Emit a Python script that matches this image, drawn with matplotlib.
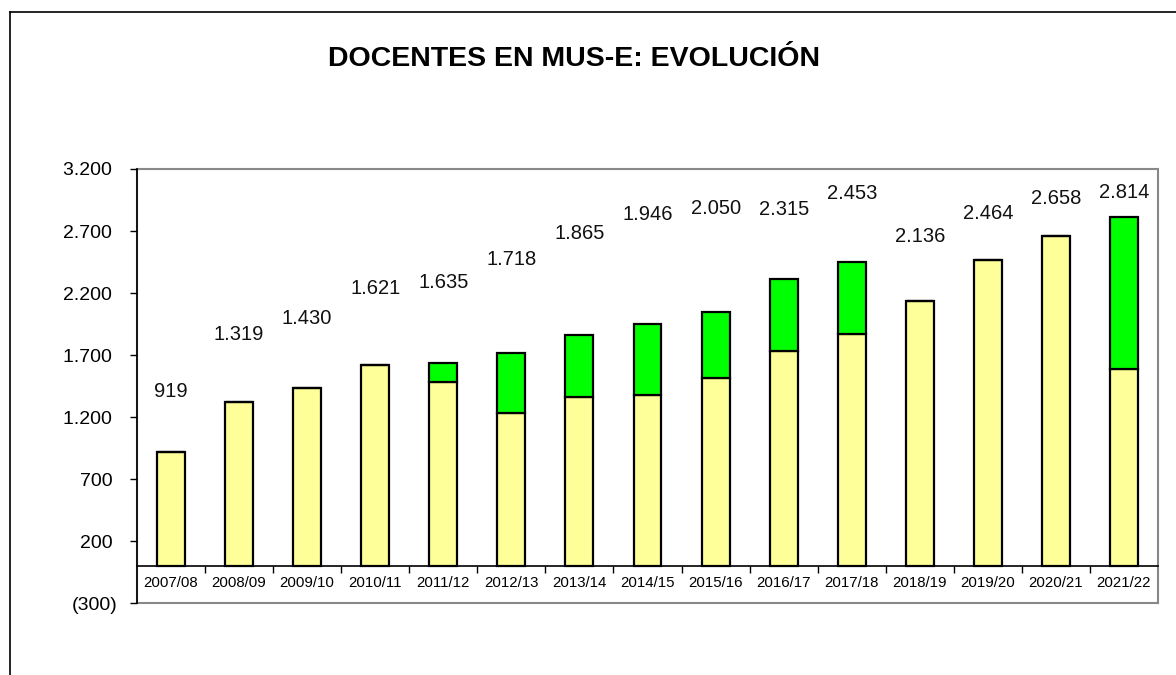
import matplotlib
matplotlib.use("Agg")
import matplotlib.pyplot as plt
from matplotlib.lines import Line2D
from matplotlib.patches import Rectangle
from matplotlib.ticker import FixedLocator, FuncFormatter

plt.rcParams['font.family'] = ['Liberation Sans', 'DejaVu Sans']

categories = ["2007/08", "2008/09", "2009/10", "2010/11", "2011/12", "2012/13", "2013/14",
              "2014/15", "2015/16", "2016/17", "2017/18", "2018/19", "2019/20", "2020/21", "2021/22"]
totals = [919, 1319, 1430, 1621, 1635, 1718, 1865, 1946, 2050, 2315, 2453, 2136, 2464, 2658, 2814]
base_part = [919, 1319, 1430, 1621, 1482, 1232, 1358, 1378, 1515, 1733, 1868, 2136, 2464, 2658, 1588]
green_part = [t - b for t, b in zip(totals, base_part)]
# vertical placement of the value labels (data units), as in the original
label_pos = [1404, 1865, 1995, 2236, 2284, 2471, 2681, 2835, 2881, 2875, 3002, 2652, 2843, 2962, 3013]

fig = plt.figure(figsize=(11.76, 6.75), dpi=100)
ax = fig.add_axes([137/1176, 1 - 603/675, (1158-137)/1176, (603-169)/675])

x = list(range(len(categories)))
w = 0.41
ax.bar(x, base_part, width=w, color="#FFFF99", edgecolor="black", linewidth=1.6, zorder=3)
ax.bar(x, green_part, width=w, bottom=base_part, color="#00FF00", edgecolor="black", linewidth=1.6, zorder=3)

for xi, t, ly in zip(x, totals, label_pos):
    ax.text(xi, ly, f"{t:,}".replace(",", "."), ha="center", va="center", fontsize=14.5, color="#111111")

ax.set_xlim(-0.5, len(categories) - 0.5)
ax.set_ylim(-300, 3200)
ax.set_yticks(list(range(-300, 3201, 500)))

def yfmt(v, pos):
    s = f"{abs(int(v)):,}".replace(",", ".")
    return f"({s})" if v < 0 else s + " "
ax.yaxis.set_major_formatter(FuncFormatter(yfmt))
ax.tick_params(axis="y", labelsize=14, length=5, width=1, direction="out", pad=9, colors="black")

for s in ["top", "right"]:
    ax.spines[s].set_visible(False)
ax.spines["left"].set_linewidth(1.2)
ax.spines["bottom"].set_position(("data", 0))
ax.spines["bottom"].set_linewidth(1.2)

ax.xaxis.set_major_locator(FixedLocator([i + 0.5 for i in range(len(categories) - 1)]))
ax.xaxis.set_major_formatter(FuncFormatter(lambda v, p: ""))
ax.xaxis.set_minor_locator(FixedLocator(x))
ax.set_xticklabels(categories, minor=True)
ax.tick_params(axis="x", which="major", length=5, width=1, direction="out")
ax.tick_params(axis="x", which="minor", length=0, labelsize=10.8, pad=7)

# gray plot frame
ax.add_patch(Rectangle((0, 0), 1, 1, transform=ax.transAxes, fill=False,
                       edgecolor="#888888", linewidth=1.5, zorder=1, clip_on=False))

fig.text(574/1176, 1 - 59/675, "DOCENTES EN MUS-E: EVOLUCIÓN", ha="center", va="center",
         fontsize=20.5, fontweight="bold")

# outer chart frame
fig.add_artist(Line2D([10/1176, 10/1176], [0, 1 - 12/675], color="black", linewidth=1.2))
fig.add_artist(Line2D([10/1176, 1], [1 - 12/675, 1 - 12/675], color="black", linewidth=1.2))

fig.savefig("out.png", dpi=100)
